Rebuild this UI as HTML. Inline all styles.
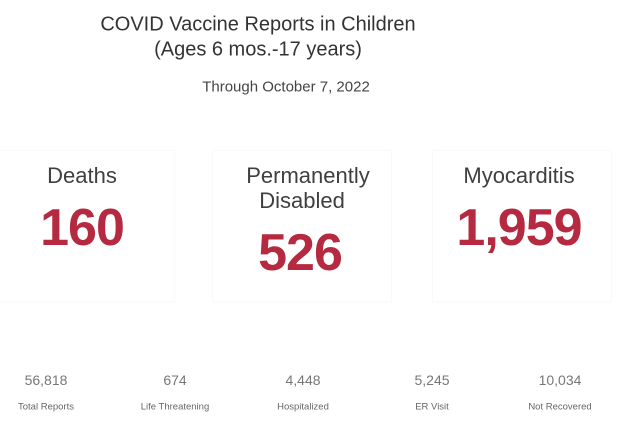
<!DOCTYPE html><html><head><style>
body{margin:0;width:640px;height:430px;background:#fff;position:relative;overflow:hidden;font-family:"Liberation Sans",sans-serif;color:#444}
.t{position:absolute;transform:translate(-50%,-50%);white-space:nowrap;text-align:center}
.big{color:#b52a40;font-size:52px;font-weight:bold;letter-spacing:-1px}
.lab{font-size:22px;color:#3f3f3f}
.n{font-size:14px;color:#777}
.s{font-size:9.5px;color:#666}
.card{position:absolute;top:150px;height:150px;box-shadow:0 1px 2px rgba(0,0,0,0.025);border:1px solid #fafafa}
</style></head><body>
<div class="card" style="left:-5px;width:178px"></div>
<div class="card" style="left:212px;width:178px"></div>
<div class="card" style="left:432px;width:178px"></div>
<div class="t" style="left:258px;top:25px;font-size:20px;color:#333">COVID Vaccine Reports in Children</div>
<div class="t" style="left:258px;top:50px;font-size:20px;color:#333">(Ages 6 mos.-17 years)</div>
<div class="t" style="left:286px;top:87px;font-size:15px;color:#444">Through October 7, 2022</div>
<div class="t lab" style="left:82px;top:176px">Deaths</div>
<div class="t big" style="left:82px;top:228px">160</div>
<div class="t lab" style="left:308px;top:176px">Permanently</div>
<div class="t lab" style="left:302px;top:201px">Disabled</div>
<div class="t big" style="left:300px;top:253px">526</div>
<div class="t lab" style="left:519px;top:176px">Myocarditis</div>
<div class="t big" style="left:519px;top:228px">1,959</div>
<div class="t n" style="left:46px;top:380px">56,818</div>
<div class="t n" style="left:175px;top:380px">674</div>
<div class="t n" style="left:303px;top:380px">4,448</div>
<div class="t n" style="left:432px;top:380px">5,245</div>
<div class="t n" style="left:560px;top:380px">10,034</div>
<div class="t s" style="left:46px;top:407px">Total Reports</div>
<div class="t s" style="left:175px;top:407px">Life Threatening</div>
<div class="t s" style="left:303px;top:407px">Hospitalized</div>
<div class="t s" style="left:432px;top:407px">ER Visit</div>
<div class="t s" style="left:560px;top:407px">Not Recovered</div>
</body></html>
